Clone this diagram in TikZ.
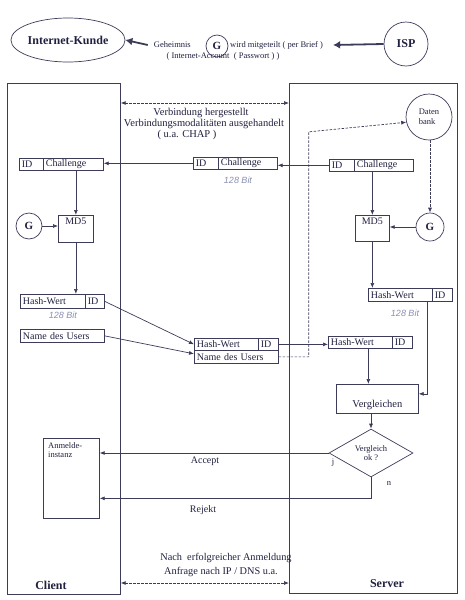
\documentclass[tikz,border=0pt]{standalone}
\usepackage{fontspec}
\setmainfont{Liberation Serif}
\newfontfamily\handfont{Liberation Sans}
\usetikzlibrary{shapes.geometric,arrows.meta}
\definecolor{lc}{HTML}{3C3C5A}
\definecolor{tc}{HTML}{202040}
\definecolor{hc}{HTML}{8A90B0}
\begin{document}
\begin{tikzpicture}[x=1pt,y=-1pt,
  every node/.style={text=tc, font=\fontsize{10}{11}\selectfont},
  ln/.style={draw=lc, line width=0.7pt},
  arr/.style={ln, -{Latex[length=5pt,width=4pt]}},
  darr/.style={ln, dash pattern=on 2.5pt off 1.5pt, {Latex[length=5pt,width=4pt]}-{Latex[length=5pt,width=4pt]}},
  dsarr/.style={ln, dash pattern=on 2.5pt off 1.5pt, -{Latex[length=5pt,width=4pt]}},
  bigarr/.style={draw=lc, line width=1.8pt, -{Latex[length=7pt,width=8pt]}},
  cell/.style args={#1/#2}{ln, anchor=north west, inner xsep=2.5pt, inner ysep=0pt, align=left, text width=#1, minimum height=#2},
  bigbox/.style={ln, anchor=north west, inner sep=0pt},
  circ/.style={ln, circle, inner sep=0pt},
  small/.style={font=\fontsize{8.5}{9.5}\selectfont},
  hand/.style={text=hc, font=\handfont\itshape\fontsize{9}{10}\selectfont},
  boldf/.style={font=\bfseries\fontsize{12}{14}\selectfont},
  midtext/.style={font=\fontsize{10.5}{12}\selectfont},
]
\useasboundingbox (0,0) rectangle (465,600);

% ---- top line ----
\node[ln, ellipse, minimum width=110pt, minimum height=44pt, inner sep=0pt, boldf] (kunde) at (68,40) {Internet-Kunde};
\node[circ, minimum size=44pt, boldf] (isp) at (406,44) {ISP};
\node[circ, minimum size=22pt, font=\bfseries\fontsize{11}{13}\selectfont] (gtop) at (217,46) {G};
\node[anchor=east, inner sep=0pt, font=\fontsize{8.5}{10}\selectfont] (geh) at (191,45) {Geheimnis};
\node[anchor=west, inner sep=0pt, font=\fontsize{8.5}{10}\selectfont] (wird) at (230,45) {wird mitgeteilt ( per Brief )};
\node[inner sep=0pt, font=\fontsize{8.5}{10}\selectfont] (acct) at (223,56) {( Internet-Account~ ( Passwort ) )};
\draw[bigarr] (isp.west) -- ([xshift=10pt]wird.east);
\draw[bigarr] ([xshift=-6pt]geh.west) -- (kunde.east);

% ---- client / server frames ----
\node[bigbox, minimum width=113pt, minimum height=511pt] (client) at (7,83) {};
\node[bigbox, minimum width=168pt, minimum height=510pt] (server) at (289,83) {};
\node[boldf] (clientlbl) at (51,585) {Client};
\node[boldf] (serverlbl) at (387,584) {Server};

% ---- connection ----
\coordinate (ytop) at (0,103);
\draw[darr] (client.east |- ytop) -- (server.west |- ytop);
\node[midtext] (t1) at (201,113) {Verbindung hergestellt};
\node[midtext] (t2) at (204,124) {Verbindungsmodalitäten ausgehandelt};
\node[midtext] (t3) at (187,135) {( u.a. CHAP )};

% ---- Datenbank ----
\node[circ, minimum size=46pt, small, align=left] (db) at (429,117) {Daten\\bank};

% ---- ID / Challenge ----
\node[cell=19pt/12pt] (cid) at (19,158) {ID};
\node[cell=55pt/12pt] (cch) at (43,158) {Challenge};
\node[cell=20pt/12pt] (mid) at (193,157) {ID};
\node[cell=54pt/12pt] (mch) at (218,157) {Challenge};
\node[cell=20pt/12pt] (sid) at (329,159) {ID};
\node[cell=54pt/12pt] (sch) at (354,159) {Challenge};
\node[hand] (bit1) at (238,180) {128 Bit};
\draw[arr] (sid.west) -- (mch.east |- sid.west);
\draw[arr] (mid.west) -- (cch.east |- mid.west);

% ---- client MD5 ----
\node[ln, anchor=north west, minimum width=35pt, minimum height=27pt, inner sep=0pt,
      label={[anchor=north, inner sep=2pt, yshift=-1pt]north:MD5}] (cmd5) at (58,215) {};
\node[circ, minimum size=26pt, font=\bfseries\fontsize{11}{13}\selectfont] (cg) at (29,226) {G};
\draw[arr] (cmd5.north |- cch.south) -- (cmd5.north);
\draw[arr] (cg.east) -- (cmd5.west |- cg.east);

% ---- server MD5 ----
\node[ln, anchor=north west, minimum width=34pt, minimum height=26pt, inner sep=0pt,
      label={[anchor=north, inner sep=2pt, yshift=-1pt]north:MD5}] (smd5) at (355,215) {};
\node[circ, minimum size=28pt, font=\bfseries\fontsize{11}{13}\selectfont] (sg) at (430,227) {G};
\draw[arr] (smd5.north |- sch.south) -- (smd5.north);
\draw[arr] (sg.west) -- (smd5.east |- sg.west);
\draw[dsarr] (sg.north |- db.south) -- (sg.north);

% ---- client hash ----
\node[cell=60pt/14pt] (chw) at (20,294) {Hash-Wert};
\node[cell=14pt/14pt] (chid) at (85,294) {ID};
\node[hand] (bit2) at (63,315) {128 Bit};
\draw[arr] (cmd5.south) -- (cmd5.south |- chw.north);
\node[cell=79pt/13pt] (cname) at (20,329) {Name des Users};

% ---- middle transmitted ----
\node[cell=59pt/12pt] (mhw) at (194,338) {Hash-Wert};
\node[cell=15pt/12pt] (mhid) at (258,338) {ID};
\node[cell=79pt/13pt] (mname) at (194,350) {Name des Users};
\draw[arr] (chid.east) -- (mhw.west);
\draw[arr] (cname.east) -- ([yshift=3pt]mname.west);
\draw[dsarr] (mname.east) -- ++(30,0) -- ++(0,-225) -- (db.193);

% ---- server hashes ----
\node[cell=59pt/13pt] (shw) at (368,288) {Hash-Wert};
\node[cell=15pt/13pt] (shid) at (432,288) {ID};
\node[hand] (bit3) at (405,313) {128 Bit};
\draw[arr] (smd5.south) -- (smd5.south |- shw.north);
\node[cell=59pt/12pt] (s2hw) at (328,336) {Hash-Wert};
\node[cell=15pt/12pt] (s2hid) at (392,336) {ID};
\draw[arr] (mhid.east) -- (s2hw.west |- mhid.east);

% ---- compare ----
\node[ln, anchor=north west, minimum width=82pt, minimum height=29pt, inner sep=0pt,
      label={[anchor=south, inner sep=0pt, yshift=4pt, midtext]south:Vergleichen}] (vgl) at (336,384) {};
\draw[arr] ([xshift=8pt]s2hw.south) -- ([xshift=8pt]s2hw.south |- vgl.north);
\draw[arr] ([xshift=-5pt]shw.south east) |- ([yshift=5pt]vgl.east);
\node[ln, diamond, minimum width=84pt, minimum height=43pt, inner sep=0pt, small, align=center] (dia) at (371,453) {Vergleich\\ok ?};
\draw[arr] (dia.north |- vgl.south) -- (dia.north);

% ---- Anmeldeinstanz ----
\node[ln, anchor=north west, minimum width=56pt, minimum height=80pt, inner sep=0pt,
      label={[anchor=north west, align=left, inner sep=0pt, xshift=5pt, yshift=-4pt, small]north west:Anmelde-\\instanz}] (anm) at (43,438) {};
\draw[arr] (dia.west) -- (dia.west -| anm.east);
\draw[arr] (dia.south) |- ([yshift=-20pt]anm.east);
\node (acc) at (205,461) {Accept};
\node (rej) at (203,510) {Rejekt};
\node[font=\fontsize{8.5}{9}\selectfont] (jl) at (333,463) {j};
\node[font=\fontsize{8.5}{9}\selectfont] (nl) at (389,483) {n};

% ---- bottom ----
\coordinate (ybot) at (0,583);
\draw[darr] (client.east |- ybot) -- (server.west |- ybot);
\node[font=\fontsize{10.3}{11}\selectfont] (b1) at (226,558) {Nach~ erfolgreicher Anmeldung};
\node[font=\fontsize{10.3}{11}\selectfont] (b2) at (221,572) {Anfrage nach IP / DNS u.a.};
\end{tikzpicture}
\end{document}
